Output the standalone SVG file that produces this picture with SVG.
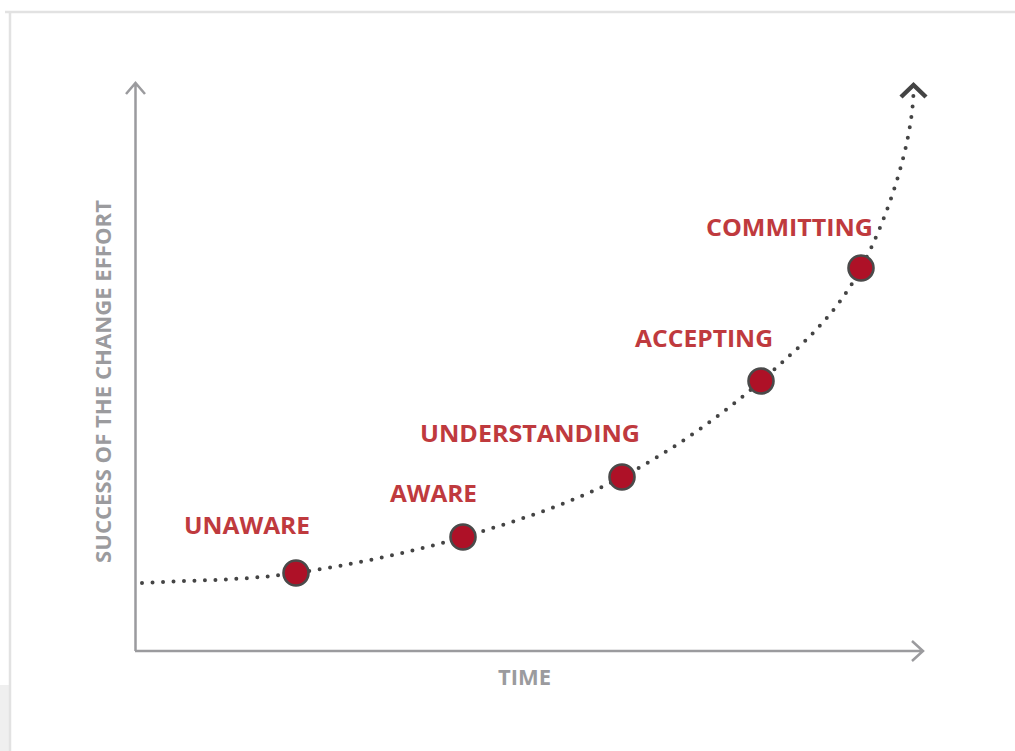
<svg xmlns="http://www.w3.org/2000/svg" width="1015" height="751" viewBox="0 0 1015 751">
<style>
.lbl{font-family:"Open Sans","Liberation Sans",sans-serif;font-weight:700;font-size:23.5px;fill:#bf3a3e;text-anchor:middle}
.ax{font-family:"Open Sans","Liberation Sans",sans-serif;font-weight:700;font-size:21.5px;fill:#9b9b9e;text-anchor:middle}
.axis{stroke:#9b9b9e;stroke-width:2.5;fill:none}
.node{fill:#ae1127;stroke:#4a4a4a;stroke-width:2.6}
</style>
<rect width="1015" height="751" fill="#ffffff"/>
<g id="frame">
<rect x="0" y="685" width="9" height="66" fill="#efefef"/>
<path d="M5 12H1015M10 12V751" stroke="#e2e2e2" stroke-width="2.5" fill="none"/>
</g>
<g id="connectors">
<path class="axis" d="M135.5 651V83M126 94L135.5 83L145 94"/>
<path class="axis" d="M135 651H923M912 641L923 651L912 661"/>
<path d="M142 583C193 580 242.5 580.7 296 573C349.5 565.3 408.7 553 463 537C517.3 521 572.3 503 622 477C671.7 451 721.2 415.8 761 381C800.8 346.2 835.5 316.2 861 268C887 220 912 145 913.5 92" stroke="#444" stroke-width="4" stroke-linecap="round" stroke-dasharray="0 10.5" fill="none"/>
<path d="M901 97L913.5 85L926 97" stroke="#444" stroke-width="4.5" fill="none"/>
</g>
<g id="axis-y-label"><text class="ax" transform="translate(111 381.5) rotate(-90)" textLength="363" lengthAdjust="spacingAndGlyphs">SUCCESS OF THE CHANGE EFFORT</text></g>
<g id="axis-x-label"><text class="ax" x="524.5" y="685" textLength="53" lengthAdjust="spacingAndGlyphs">TIME</text></g>
<g id="unaware"><circle class="node" cx="296" cy="573" r="12.5"/><text class="lbl" x="247" y="534" textLength="126" lengthAdjust="spacingAndGlyphs">UNAWARE</text></g>
<g id="aware"><circle class="node" cx="463" cy="537" r="12.5"/><text class="lbl" x="433.5" y="502" textLength="87" lengthAdjust="spacingAndGlyphs">AWARE</text></g>
<g id="understanding"><circle class="node" cx="622" cy="477" r="12.5"/><text class="lbl" x="530" y="442" textLength="220" lengthAdjust="spacingAndGlyphs">UNDERSTANDING</text></g>
<g id="accepting"><circle class="node" cx="761" cy="381" r="12.5"/><text class="lbl" x="704" y="347" textLength="138" lengthAdjust="spacingAndGlyphs">ACCEPTING</text></g>
<g id="committing"><circle class="node" cx="861" cy="268" r="12.5"/><text class="lbl" x="789.5" y="236" textLength="167" lengthAdjust="spacingAndGlyphs">COMMITTING</text></g>
</svg>
